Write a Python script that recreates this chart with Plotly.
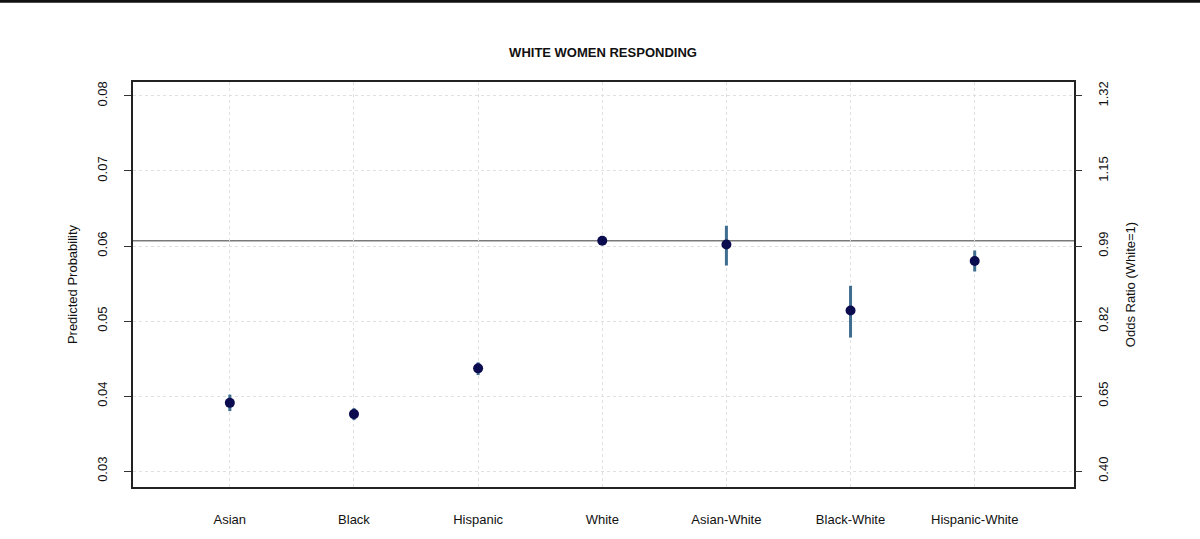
import plotly.graph_objects as go

categories = ["Asian", "Black", "Hispanic", "White", "Asian-White", "Black-White", "Hispanic-White"]
predicted = [0.0391, 0.0376, 0.0437, 0.0607, 0.0602, 0.0514, 0.0580]
upper = [0.0402, 0.0384, 0.0445, 0.0607, 0.0627, 0.0547, 0.0594]
lower = [0.0380, 0.0368, 0.0428, 0.0607, 0.0574, 0.0478, 0.0566]
reference = 0.0607

left_ticks = [0.03, 0.04, 0.05, 0.06, 0.07, 0.08]
left_labels = ["0.03", "0.04", "0.05", "0.06", "0.07", "0.08"]
right_labels = ["0.40", "0.65", "0.82", "0.99", "1.15", "1.32"]

x_idx = list(range(len(categories)))
err_plus = [u - p for u, p in zip(upper, predicted)]
err_minus = [p - l for p, l in zip(predicted, lower)]

W, H = 1200, 539
ML, MR, MT, MB = 133, 126, 82, 48
PW, PH = W - ML - MR, H - MT - MB

fig = go.Figure()
fig.add_trace(go.Scatter(
    x=x_idx, y=predicted, mode="markers",
    marker=dict(color="#0b0b4f", size=10),
    error_y=dict(type="data", array=err_plus, arrayminus=err_minus,
                 color="#3f6d8f", thickness=3, width=0),
    showlegend=False, hoverinfo="skip",
))
fig.add_trace(go.Scatter(x=[None], y=[None], yaxis="y2", showlegend=False))

fig.add_shape(type="line", xref="paper", yref="y", x0=0, x1=1,
              y0=reference, y1=reference, line=dict(color="#7a7a7a", width=1.5),
              layer="below")
# thin dark strip along the top edge of the image
fig.add_shape(type="rect", xref="paper", yref="paper",
              x0=-ML / PW, x1=(W - ML) / PW,
              y0=1 + (MT - 2) / PH, y1=1 + (MT + 2) / PH,
              fillcolor="#111", line=dict(width=0))

grid = dict(showgrid=True, gridcolor="#e0e0e0", griddash="dot", gridwidth=1)

fig.update_layout(
    width=W, height=H,
    margin=dict(l=ML, r=MR, t=MT, b=MB),
    paper_bgcolor="white", plot_bgcolor="white",
    font=dict(family="Liberation Sans, Arial, sans-serif", size=13, color="#111"),
    title=dict(text="<b>WHITE WOMEN RESPONDING</b>", x=0.5025, xanchor="center",
               y=1 - 52 / H, yanchor="middle", font=dict(size=13, color="#111")),
    xaxis=dict(
        range=[-0.78, 6.8], tickvals=x_idx, ticktext=categories,
        showline=True, linecolor="#222", linewidth=1.5, mirror=True,
        ticks="", ticklabelstandoff=20, zeroline=False,
        tickfont=dict(size=13), **grid,
    ),
    yaxis=dict(
        range=[0.02789, 0.08185], tickvals=left_ticks, ticktext=left_labels,
        tickangle=-90, ticks="outside", ticklen=7, tickcolor="#333",
        ticklabelstandoff=12,
        showline=True, linecolor="#222", linewidth=1.5, mirror=True,
        zeroline=False, tickfont=dict(size=13), **grid,
        title=dict(text="Predicted Probability", standoff=14, font=dict(size=13)),
    ),
    yaxis2=dict(
        range=[0.02789, 0.08185], tickvals=left_ticks, ticktext=right_labels,
        overlaying="y", side="right", tickangle=-90, ticks="outside", ticklen=7,
        tickcolor="#333", ticklabelstandoff=10, tickfont=dict(size=13),
        showgrid=False, zeroline=False, showline=False,
        title=dict(text="Odds Ratio (White=1)", standoff=16, font=dict(size=13)),
    ),
)

fig.write_html("out.html")
